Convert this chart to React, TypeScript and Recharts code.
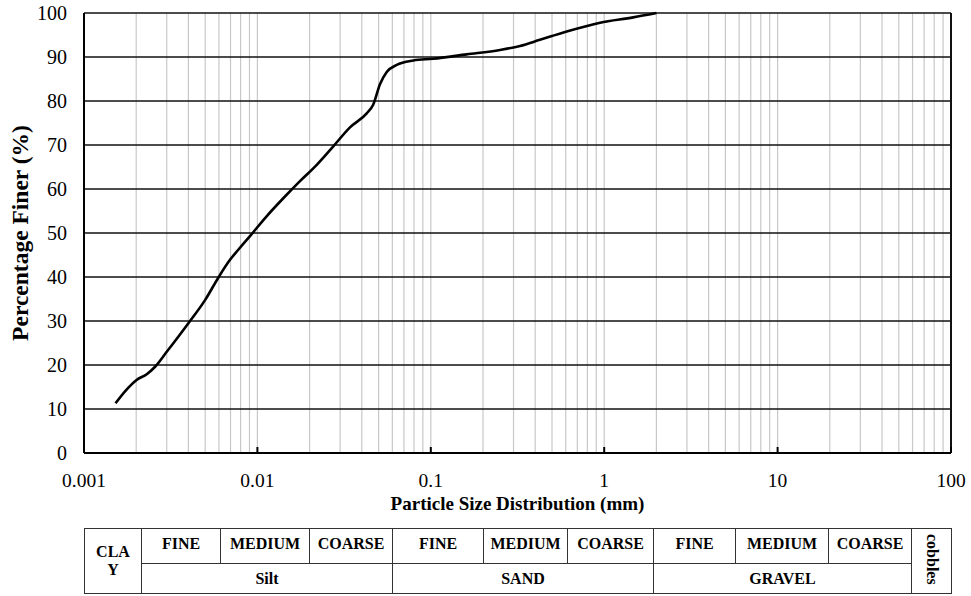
import { CartesianGrid, Line, LineChart, ReferenceLine, XAxis, YAxis } from "recharts";

// grain size (mm) vs percentage finer
const SIZES = [
  0.00152, 0.00176, 0.00201, 0.0023, 0.00257, 0.003, 0.004, 0.005, 0.00596, 0.00695,
  0.00776, 0.00906, 0.0113, 0.0141, 0.0176, 0.022, 0.0274, 0.0342, 0.0427, 0.0466,
  0.0509, 0.0557, 0.0636, 0.0793, 0.103, 0.161, 0.251, 0.327, 0.426, 0.608, 0.947,
  1.47, 2.0,
];
const FINER = [
  11.3, 14.4, 16.6, 17.9, 19.6, 23.0, 29.5, 34.8, 39.9, 43.9,
  46.2, 49.3, 53.8, 57.9, 61.8, 65.5, 69.7, 74.0, 77.2, 79.2,
  83.8, 86.6, 88.2, 89.2, 89.6, 90.6, 91.6, 92.5, 93.9, 95.8, 97.8,
  99.0, 100,
];

const X_TICKS = [0.001, 0.01, 0.1, 1, 10, 100];
const Y_TICKS = [0, 10, 20, 30, 40, 50, 60, 70, 80, 90, 100];
const DECADES = [0.001, 0.01, 0.1, 1, 10];
const MINOR_STEPS = [1, 2, 3, 4, 5, 6, 7, 8, 9];

const SUBDIVISIONS = ["FINE", "MEDIUM", "COARSE"];
const SOIL_GROUPS = ["Silt", "SAND", "GRAVEL"];

const data = SIZES.map((size, i) => ({ size, finer: FINER[i] }));
const verticalLines = DECADES.flatMap((d) => MINOR_STEPS.map((s) => +(d * s).toPrecision(3))).filter(
  (v) => v > 0.001
);

const FONT = '"Liberation Serif", "Times New Roman", serif';

function XTick({ x, y, payload }: any) {
  return (
    <g>
      <line x1={x} x2={x} y1={y} y2={y - 6} stroke="#000" strokeWidth={2} />
      <text x={x} y={y + 34} textAnchor="middle" fontSize={19.5} fill="#000" fontFamily={FONT}>
        {payload.value}
      </text>
    </g>
  );
}

// widths in px of the classification table columns
const COL_W = [57, 79, 89, 83, 91, 84, 86, 82, 93, 83, 40];

const cell: React.CSSProperties = {
  border: "1.5px solid #333",
  textAlign: "center",
  fontWeight: "bold",
  fontSize: 16,
  padding: 0,
};

export default function App() {
  return (
    <div
      style={{
        position: "absolute",
        left: 0,
        top: 0,
        width: 971,
        height: 596,
        background: "#fff",
        fontFamily: FONT,
        color: "#000",
      }}
    >
      <LineChart width={971} height={520} data={data} margin={{ top: 13, right: 20, left: 0, bottom: 0 }}>
        <CartesianGrid horizontal={false} vertical={false} />
        {verticalLines.map((v) => (
          <ReferenceLine key={v} x={v} stroke="#c8c8c8" strokeWidth={1.2} />
        ))}
        {Y_TICKS.map((v) => (
          <ReferenceLine key={"h" + v} y={v} stroke="#111" strokeWidth={1.6} />
        ))}
        <ReferenceLine x={100} stroke="#111" strokeWidth={2} />
        <XAxis
          dataKey="size"
          type="number"
          scale="log"
          domain={[0.001, 100]}
          ticks={X_TICKS}
          allowDataOverflow
          height={67}
          tickSize={0}
          tickMargin={0}
          tickLine={false}
          tick={<XTick />}
          axisLine={{ stroke: "#000", strokeWidth: 2 }}
          label={{
            value: "Particle Size Distribution (mm)",
            position: "insideBottom",
            offset: 10,
            style: { fontWeight: "bold", fontSize: 19, fill: "#000", fontFamily: FONT },
          }}
        />
        <YAxis
          type="number"
          domain={[0, 100]}
          ticks={Y_TICKS}
          width={84}
          tickLine={false}
          tickSize={0}
          tickMargin={17}
          tick={{ fill: "#000", fontSize: 20, fontFamily: FONT }}
          axisLine={{ stroke: "#000", strokeWidth: 2 }}
          label={{
            value: "Percentage Finer (%)",
            angle: -90,
            position: "insideLeft",
            offset: 20,
            style: { textAnchor: "middle", fontWeight: "bold", fontSize: 23.5, fill: "#000", fontFamily: FONT },
          }}
        />
        <Line
          type="monotone"
          dataKey="finer"
          stroke="#000"
          strokeWidth={2.6}
          dot={false}
          isAnimationActive={false}
        />
      </LineChart>

      <table
        style={{
          position: "absolute",
          left: 84,
          top: 528,
          width: 867,
          borderCollapse: "collapse",
          tableLayout: "fixed",
          fontFamily: FONT,
        }}
      >
        <colgroup>
          {COL_W.map((w, i) => (
            <col key={i} style={{ width: w }} />
          ))}
        </colgroup>
        <tbody>
          <tr style={{ height: 35 }}>
            <td rowSpan={2} style={{ ...cell, lineHeight: "18px" }}>
              CLA
              <br />Y
            </td>
            {SOIL_GROUPS.flatMap((g) =>
              SUBDIVISIONS.map((s) => (
                <td key={g + s} style={{ ...cell, verticalAlign: "top", paddingTop: 6 }}>
                  {s}
                </td>
              ))
            )}
            <td rowSpan={2} style={{ ...cell, fontSize: 16 }}>
              <span style={{ writingMode: "vertical-rl" }}>cobbles</span>
            </td>
          </tr>
          <tr style={{ height: 30 }}>
            {SOIL_GROUPS.map((g) => (
              <td key={g} colSpan={3} style={cell}>
                {g}
              </td>
            ))}
          </tr>
        </tbody>
      </table>
    </div>
  );
}
